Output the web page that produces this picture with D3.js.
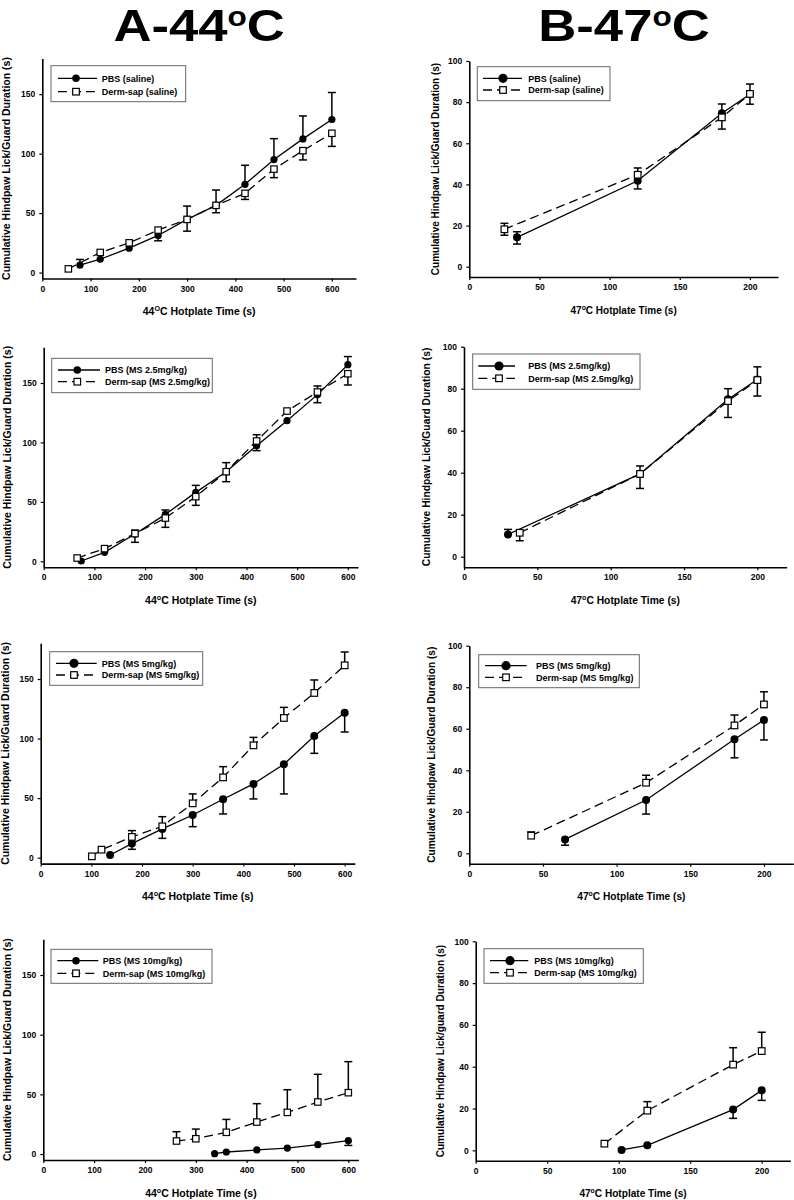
<!DOCTYPE html>
<html><head><meta charset="utf-8">
<script src="https://cdn.jsdelivr.net/npm/d3@7"></script>
<style>
body{margin:0;background:#fff}
svg text{font-family:"Liberation Sans",Arial,Helvetica,sans-serif;font-weight:bold;fill:#000}
</style>
</head><body>
<svg id="chart" width="794" height="1200"></svg>
<script>
// ---------- DATA ----------
const titles = ["A-44", "B-47"];
const xTicks44 = [0, 100, 200, 300, 400, 500, 600];
const xTicks47 = [0, 50, 100, 150, 200];
const yTicks44 = [0, 50, 100, 150];
const yTicks47 = [0, 20, 40, 60, 80, 100];
const yLabelMain = "Cumulative Hindpaw Lick/Guard Duration (s)";
const yLabelAlt = "Cumulative Hindpaw Lick/guard Duration (s)";
const pbsLabels = ["PBS (saline)", "PBS (MS 2.5mg/kg)", "PBS (MS 5mg/kg)", "PBS (MS 10mg/kg)"];
const dermLabels = ["Derm-sap (saline)", "Derm-sap (MS 2.5mg/kg)", "Derm-sap (MS 5mg/kg)", "Derm-sap (MS 10mg/kg)"];

// A1 44C saline
const a1PbsX = [78, 120, 180, 240, 300, 360, 420, 480, 540, 600];
const a1PbsY = [6.2, 11.2, 20.5, 31.2, 44.7, 56.5, 74.2, 95, 112.4, 128.7];
const a1PbsUp = [4.8, 0, 0, 0, 11.2, 12.9, 16, 17.6, 19.3, 22.7];
const a1PbsDown = [0, 0, 0, 4.5, 0, 0, 0, 0, 0, 0];
const a1DermX = [54, 120, 180, 240, 300, 360, 420, 480, 540, 600];
const a1DermY = [3.1, 16.9, 25, 35.7, 44.7, 56.5, 66.6, 87, 102.5, 117.1];
const a1DermUp = [0, 0, 0, 0, 0, 0, 0, 0, 0, 0];
const a1DermDown = [0, 0, 0, 0, 9.9, 6.2, 5.1, 7.2, 7.8, 11];

// A2 44C MS 2.5
const a2PbsX = [74, 120, 180, 240, 300, 360, 420, 480, 540, 600];
const a2PbsY = [0.3, 7.6, 23, 39.5, 58, 75.4, 97.3, 118.3, 140.2, 165.4];
const a2PbsUp = [0, 0, 0, 3.7, 5.9, 7.6, 0, 0, 0, 6.8];
const a2PbsDown = [0, 0, 0, 0, 0, 0, 4.2, 0, 6.8, 0];
const a2DermX = [66, 120, 180, 240, 300, 360, 420, 480, 540, 600];
const a2DermY = [2.8, 10.7, 23.3, 36.4, 54.4, 75.4, 101.2, 126.4, 142.4, 157.8];
const a2DermUp = [0, 0, 3, 0, 0, 0, 5.3, 0, 5.1, 0];
const a2DermDown = [0, 0, 7.3, 7.8, 7.3, 8.4, 0, 0, 0, 9.5];

// A3 44C MS 5
const a3PbsX = [137, 180, 240, 300, 360, 420, 480, 540, 600];
const a3PbsY = [2.2, 11.8, 24.1, 35.8, 49, 61.9, 78.4, 102.2, 121.7];
const a3PbsUp = [0, 0, 0, 0, 0, 0, 0, 0, 0];
const a3PbsDown = [0, 4.8, 7.9, 9.8, 12.3, 12.6, 24.9, 14.6, 16.2];
const a3DermX = [101, 120, 180, 240, 300, 360, 420, 480, 540, 600];
const a3DermY = [1.1, 6.7, 17.4, 26.3, 45.6, 67.4, 94.3, 117.3, 138.3, 161.5];
const a3DermUp = [0, 0, 5.3, 8.1, 7.9, 9, 6.7, 8.9, 10.9, 11.2];
const a3DermDown = [0, 0, 0, 0, 0, 0, 0, 0, 0, 0];

// A4 44C MS 10
const a4PbsX = [337, 360, 420, 480, 540, 600];
const a4PbsY = [0.3, 1.7, 3.4, 5, 7.8, 11.2];
const a4PbsUp = [0, 0, 0, 0, 0, 0];
const a4PbsDown = [0, 0, 0, 0, 0, 4];
const a4DermX = [262, 300, 360, 420, 480, 540, 600];
const a4DermY = [10.9, 12.8, 18.2, 26.8, 34.9, 43.6, 51.4];
const a4DermUp = [7.8, 8.1, 10.8, 15.4, 19, 23.2, 26];
const a4DermDown = [0, 0, 0, 0, 0, 0, 0];

// B1 47C saline
const b1PbsX = [34, 120, 180, 200];
const b1PbsY = [14.3, 41.8, 74.6, 83.8];
const b1PbsUp = [2.7, 0, 4.5, 5];
const b1PbsDown = [3.3, 4, 0, 0];
const b1DermX = [25, 120, 180, 200];
const b1DermY = [18.2, 44.7, 72.6, 84];
const b1DermUp = [2.9, 3.3, 0, 0];
const b1DermDown = [2.9, 0, 5.7, 5];

// B2 47C MS 2.5
const b2PbsX = [30, 120, 180, 200];
const b2PbsY = [10.6, 39.4, 75, 84.4];
const b2PbsUp = [2.4, 0, 5, 6];
const b2PbsDown = [0, 0, 0, 0];
const b2DermX = [38, 120, 180, 200];
const b2DermY = [11.4, 39.4, 74.1, 84.1];
const b2DermUp = [0, 3.8, 0, 0];
const b2DermDown = [3.8, 6.9, 7.8, 7.6];

// B3 47C MS 5
const b3PbsX = [65, 120, 180, 200];
const b3PbsY = [6.7, 25.7, 54.9, 64.2];
const b3PbsUp = [0, 0, 0, 0];
const b3PbsDown = [2.8, 6.8, 8.9, 9.6];
const b3DermX = [42, 120, 180, 200];
const b3DermY = [8.5, 34, 61.6, 71.7];
const b3DermUp = [1.8, 3.6, 5, 6.1];
const b3DermDown = [0, 0, 0, 0];

// B4 47C MS 10
const b4PbsX = [102, 120, 180, 200];
const b4PbsY = [0.2, 2.4, 19.5, 28.7];
const b4PbsUp = [0, 0, 0, 0];
const b4PbsDown = [0, 0, 4.2, 4.8];
const b4DermX = [90, 120, 180, 200];
const b4DermY = [3.2, 19, 41, 47.5];
const b4DermUp = [0, 4.3, 8.1, 9];
const b4DermDown = [0, 0, 0, 0];

// ---------- LAYOUT ----------
function ser(xs, ys, up, down) { return xs.map((v, i) => ({x: v, y: ys[i], up: up[i], down: down[i]})); }

const panels = [
  {pbs: ser(a1PbsX,a1PbsY,a1PbsUp,a1PbsDown), derm: ser(a1DermX,a1DermY,a1DermUp,a1DermDown), li:0,
   left:42.3,right:356,top:58.5,bottom:278.5,xMax:650,yMin:-5,yMax:180,xt:xTicks44,yt:yTicks44,
   lg:{x:51,y:65.7,w:134.7,h:36,r1:78.3,r2:91.7,l1:58,l2:97,s:76,t:101.7}, ylx:6.7, yl:yLabelMain, deg:"O", temp:"44", fs:10.5, bigSym:false},
  {pbs: ser(a2PbsX,a2PbsY,a2PbsUp,a2PbsDown), derm: ser(a2DermX,a2DermY,a2DermUp,a2DermDown), li:1,
   left:43.7,right:358,top:347.3,bottom:567.3,xMax:620,yMin:-5,yMax:180,xt:xTicks44,yt:yTicks44,
   lg:{x:51.7,y:358.3,w:160.6,h:34.4,r1:370,r2:381.7,l1:58,l2:100,s:77.3,t:105}, ylx:7.3, yl:yLabelMain, deg:"o", temp:"44", fs:10.5, bigSym:false},
  {pbs: ser(a3PbsX,a3PbsY,a3PbsUp,a3PbsDown), derm: ser(a3DermX,a3DermY,a3DermUp,a3DermDown), li:2,
   left:40.7,right:354.8,top:643.3,bottom:863.6,xMax:620,yMin:-5,yMax:180,xt:xTicks44,yt:yTicks44,
   lg:{x:49.7,y:651.7,w:153,h:33.6,r1:663.3,r2:675,l1:56,l2:96.7,s:74,t:101.7}, ylx:5, yl:yLabelMain, deg:"o", temp:"44", fs:10.5, bigSym:true},
  {pbs: ser(a4PbsX,a4PbsY,a4PbsUp,a4PbsDown), derm: ser(a4DermX,a4DermY,a4DermUp,a4DermDown), li:3,
   left:43.3,right:358.5,top:939.2,bottom:1160,xMax:620,yMin:-5,yMax:180,xt:xTicks44,yt:yTicks44,
   lg:{x:51,y:949.3,w:161,h:34,r1:960.7,r2:973.3,l1:57.3,l2:98.3,s:76,t:102.7}, ylx:7.3, yl:yLabelMain, deg:"o", temp:"44", fs:10.5, bigSym:false},
  {pbs: ser(b1PbsX,b1PbsY,b1PbsUp,b1PbsDown), derm: ser(b1DermX,b1DermY,b1DermUp,b1DermDown), li:0,
   left:469.3,right:778,top:61,bottom:277,xMax:220,yMin:-5,yMax:100,xt:xTicks47,yt:yTicks47,
   lg:{x:477.3,y:66.7,w:132.7,h:34,r1:78.3,r2:90,l1:483,l2:522,s:503,t:528.3}, ylx:435, yl:yLabelMain, deg:"o", temp:"47", fs:10, bigSym:true},
  {pbs: ser(b2PbsX,b2PbsY,b2PbsUp,b2PbsDown), derm: ser(b2DermX,b2DermY,b2DermUp,b2DermDown), li:1,
   left:464,right:786.7,top:346.7,bottom:567.2,xMax:220,yMin:-5,yMax:100,xt:xTicks47,yt:yTicks47,
   lg:{x:472.7,y:354,w:167.3,h:35.3,r1:366,r2:378.3,l1:478.3,l2:515,s:499,t:528.3}, ylx:426.7, yl:yLabelMain, deg:"o", temp:"47", fs:10.3, bigSym:true},
  {pbs: ser(b3PbsX,b3PbsY,b3PbsUp,b3PbsDown), derm: ser(b3DermX,b3DermY,b3DermUp,b3DermDown), li:2,
   left:469.3,right:793.4,top:645.7,bottom:863.7,xMax:220,yMin:-5,yMax:100,xt:xTicks47,yt:yTicks47,
   lg:{x:478.7,y:654.7,w:160.6,h:33,r1:665.7,r2:677.3,l1:485,l2:526.7,s:506,t:536}, ylx:431.7, yl:yLabelMain, deg:"o", temp:"47", fs:10.2, bigSym:true},
  {pbs: ser(b4PbsX,b4PbsY,b4PbsUp,b4PbsDown), derm: ser(b4DermX,b4DermY,b4DermUp,b4DermDown), li:3,
   left:475.7,right:790.3,top:941.3,bottom:1160.8,xMax:220,yMin:-5,yMax:100,xt:xTicks47,yt:yTicks47,
   lg:{x:484,y:948.7,w:159.3,h:34.6,r1:960.7,r2:972.7,l1:490,l2:528.3,s:510,t:534.3}, ylx:440, yl:yLabelAlt, deg:"o", temp:"47", fs:10.1, bigSym:true}
];

const svg = d3.select("#chart");

// Titles
const titleX = [113.4, 538.3];
titles.forEach((t, i) => {
  const tx = svg.append("text")
    .attr("transform", `translate(${titleX[i]},41) scale(1.17,1)`)
    .style("font-size", "45px");
  tx.append("tspan").text(t);
  tx.append("tspan").attr("dy", -15).style("font-size", "27px").text("o");
  tx.append("tspan").attr("dy", 15).text("C");
});

const DASH = "9,5";

panels.forEach(p => {
  const g = svg.append("g");
  const x = d3.scaleLinear().domain([0, p.xMax]).range([p.left, p.right]);
  const y = d3.scaleLinear().domain([p.yMin, p.yMax]).range([p.bottom, p.top]);

  // axes
  const xa = g.append("g").attr("transform", `translate(0,${p.bottom})`)
    .call(d3.axisBottom(x).tickValues(p.xt).tickSize(3).tickSizeOuter(0).tickPadding(4).tickFormat(d3.format("d")));
  const ya = g.append("g").attr("transform", `translate(${p.left},0)`)
    .call(d3.axisLeft(y).tickValues(p.yt).tickSize(3).tickSizeOuter(0).tickPadding(4).tickFormat(d3.format("d")));
  [xa, ya].forEach(a => {
    a.select(".domain").attr("stroke", "#000").attr("stroke-width", 1.6);
    a.selectAll(".tick line").attr("stroke", "#000").attr("stroke-width", 1.2);
    a.selectAll(".tick text").style("font-size", "8.5px").style("font-family", "'Liberation Sans',Arial,sans-serif").style("font-weight", "bold").attr("fill", "#000");
  });

  // axis labels
  const cy = (p.top + p.bottom) / 2;
  g.append("text").attr("transform", `translate(${p.ylx + 3.5},${cy}) rotate(-90)`)
    .attr("text-anchor", "middle").style("font-size", p.fs + "px").text(p.yl);
  const xl = g.append("text").attr("x", (p.left + p.right) / 2).attr("y", p.bottom + 36.5)
    .attr("text-anchor", "middle").style("font-size", p.fs + "px");
  xl.append("tspan").text(p.temp);
  xl.append("tspan").attr("dy", -4).style("font-size", (p.fs * 0.68) + "px").text(p.deg);
  xl.append("tspan").attr("dy", 4).text("C Hotplate Time (s)");

  const line = d3.line().x(d => x(d.x)).y(d => y(d.y));
  g.append("path").datum(p.pbs).attr("d", line).attr("fill", "none").attr("stroke", "#000").attr("stroke-width", 1.3);
  g.append("path").datum(p.derm).attr("d", line).attr("fill", "none").attr("stroke", "#000").attr("stroke-width", 1.3).attr("stroke-dasharray", DASH);

  // error bars
  const cap = 4;
  function bars(data) {
    data.forEach(d => {
      [[d.up, 1], [d.down, -1]].forEach(([e, s]) => {
        if (e > 0) {
          const y0 = y(d.y), y1 = y(d.y + s * e);
          g.append("line").attr("x1", x(d.x)).attr("x2", x(d.x)).attr("y1", y0).attr("y2", y1).attr("stroke", "#000").attr("stroke-width", 1.5);
          g.append("line").attr("x1", x(d.x) - cap).attr("x2", x(d.x) + cap).attr("y1", y1).attr("y2", y1).attr("stroke", "#000").attr("stroke-width", 1.5);
        }
      });
    });
  }
  bars(p.pbs); bars(p.derm);

  const r = p.bigSym ? 4 : 3.6;
  const sq = p.bigSym ? 6.6 : 6.4;
  g.selectAll(".pc").data(p.pbs).enter().append("circle")
    .attr("cx", d => x(d.x)).attr("cy", d => y(d.y)).attr("r", r).attr("fill", "#000");
  g.selectAll(".ds").data(p.derm).enter().append("rect")
    .attr("x", d => x(d.x) - sq / 2).attr("y", d => y(d.y) - sq / 2).attr("width", sq).attr("height", sq)
    .attr("fill", "#fff").attr("stroke", "#000").attr("stroke-width", 1.2);

  // legend
  const L = p.lg;
  g.append("rect").attr("x", L.x).attr("y", L.y).attr("width", L.w).attr("height", L.h)
    .attr("fill", "#fff").attr("stroke", "#666").attr("stroke-width", 1);
  g.append("line").attr("x1", L.l1).attr("x2", L.l2).attr("y1", L.r1).attr("y2", L.r1).attr("stroke", "#000").attr("stroke-width", 1.3);
  g.append("circle").attr("cx", L.s).attr("cy", L.r1).attr("r", p.bigSym ? 4.6 : 3.8).attr("fill", "#000");
  g.append("line").attr("x1", L.l1).attr("x2", L.l2).attr("y1", L.r2).attr("y2", L.r2).attr("stroke", "#000").attr("stroke-width", 1.3).attr("stroke-dasharray", DASH);
  g.append("rect").attr("x", L.s - 3.3).attr("y", L.r2 - 3.3).attr("width", 6.6).attr("height", 6.6)
    .attr("fill", "#fff").attr("stroke", "#000").attr("stroke-width", 1.2);
  g.append("text").attr("x", L.t).attr("y", L.r1 + 3.2).style("font-size", "9px").text(pbsLabels[p.li]);
  g.append("text").attr("x", L.t).attr("y", L.r2 + 3.2).style("font-size", "9px").text(dermLabels[p.li]);
});
</script>
</body></html>
